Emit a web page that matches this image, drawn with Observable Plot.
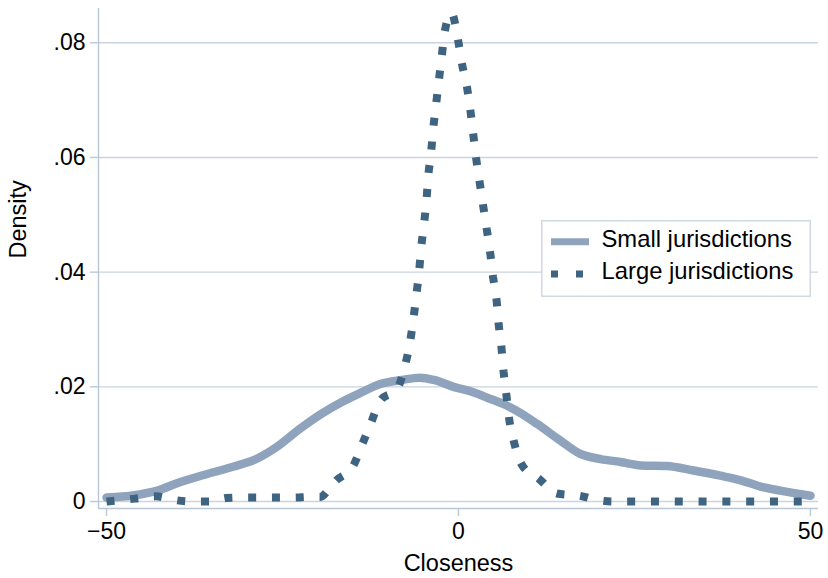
<!DOCTYPE html>
<html>
<head>
<meta charset="utf-8">
<script src="https://cdn.jsdelivr.net/npm/d3@7"></script>
<script src="https://cdn.jsdelivr.net/npm/@observablehq/plot@0.6"></script>
<style>
  html, body { margin: 0; padding: 0; background: white; }
  #wrap { position: relative; width: 828px; height: 578px; font-family: "Liberation Sans", Arial, Helvetica, sans-serif; }
  #legend { position: absolute; left: 541px; top: 220px; }
</style>
</head>
<body>
<div id="wrap"></div>
<script>
// ---- Data ----
const seriesNames = ["Small jurisdictions", "Large jurisdictions"];

const smallX = [-50, -46, -42.8, -39.5, -35.7, -31.9, -29.1, -26.2, -22.4, -19.6, -16.5, -14, -11.1, -8, -5.5, -3.5, -0.7, 2, 4.1, 6.9, 9, 11.2, 14.5, 17.3, 20.2, 23, 25.9, 29.6, 33.4, 37.2, 40.1, 42.9, 45.7, 50];
const smallY = [0.0007, 0.0011, 0.0019, 0.0034, 0.0048, 0.0061, 0.0072, 0.0092, 0.0128, 0.0152, 0.0174, 0.0189, 0.0205, 0.0212, 0.0216, 0.0212, 0.0200, 0.0191, 0.0181, 0.0167, 0.0153, 0.0135, 0.0106, 0.0083, 0.0074, 0.0069, 0.0063, 0.0062, 0.0054, 0.0045, 0.0037, 0.0026, 0.0019, 0.0010];

const largeX = [-50, -46, -43, -40.5, -38, -35, -33, -30, -26.7, -23.4, -21, -19.6, -18.5, -17.5, -15.0, -13.7, -12.4, -11.1, -8.7, -7.6, -6.9, -6.4, -6.0, -5.6, -5.3, -4.9, -4.55, -4.3, -3.9, -3.6, -3.2, -2.8, -2.4, -2.0, -1.0, -0.05, 0.5, 1.2, 1.7, 2.1, 2.5, 3.0, 3.5, 4.0, 4.5, 4.9, 5.4, 5.7, 6.1, 6.4, 6.8, 7.2, 7.9, 9.0, 11.4, 14.0, 17.2, 20, 22, 50];
const largeY = [0, 0.0005, 0.0009, 0.0003, 0, 0, 0.0006, 0.0007, 0.0007, 0.0007, 0.0008, 0.0008, 0.0020, 0.0035, 0.0061, 0.0099, 0.0138, 0.0176, 0.0197, 0.0237, 0.0277, 0.0319, 0.0359, 0.0401, 0.0443, 0.0484, 0.0525, 0.0567, 0.0608, 0.0649, 0.0691, 0.0733, 0.0774, 0.0816, 0.0852, 0.0804, 0.0763, 0.0723, 0.0681, 0.0640, 0.0599, 0.0557, 0.0516, 0.0476, 0.0434, 0.0392, 0.0352, 0.0310, 0.0269, 0.0227, 0.0186, 0.0144, 0.0103, 0.0064, 0.0040, 0.0014, 0.0010, 0.0002, 0, 0];

const xTicks = [-50, 0, 50];
const xTickLabels = ["\u221250", "0", "50"];
const yTicks = [0, 0.02, 0.04, 0.06, 0.08];
const yTickLabels = ["0", ".02", ".04", ".06", ".08"];
const xTitle = "Closeness";
const yTitle = "Density";

// ---- Styles ----
const smallColor = "#8fa4bc";
const largeColor = "#3e6482";
const gridColor = "#c9d4e0";
const axisColor = "#b9c7d6";
const font = "'Liberation Sans', Arial, Helvetica, sans-serif";
const fs = 23;
const legendFs = 23.8;

const xDomain = [-51.14, 51.14];
const yDomain = [-0.00122, 0.08598];

const smallData = smallX.map((x, i) => ({x, y: smallY[i]}));
const largeData = largeX.map((x, i) => ({x, y: largeY[i]}));

const chart = Plot.plot({
  width: 828,
  height: 578,
  marginLeft: 98,
  marginRight: 10,
  marginTop: 8,
  marginBottom: 70,
  x: {domain: xDomain},
  y: {domain: yDomain},
  style: {fontFamily: font, fontSize: fs + "px", background: "white", color: "black", overflow: "visible"},
  marks: [
    Plot.gridY(yTicks, {stroke: gridColor, strokeOpacity: 1, strokeWidth: 1.4}),
    Plot.ruleX([xDomain[0]], {stroke: axisColor, strokeWidth: 1.4}),
    Plot.ruleY([yDomain[0]], {stroke: axisColor, strokeWidth: 1.4}),
    Plot.axisY(yTicks, {
      tickFormat: d => yTickLabels[yTicks.indexOf(d)],
      tickSize: 8, tickPadding: 5, stroke: axisColor, strokeWidth: 1.4,
      fill: "black", fontSize: fs, label: null
    }),
    Plot.axisX(xTicks, {
      tickFormat: d => xTickLabels[xTicks.indexOf(d)],
      tickSize: 8, tickPadding: 6, stroke: axisColor, strokeWidth: 1.4,
      fill: "black", fontSize: fs, label: null
    }),
    Plot.line(smallData, {
      x: "x", y: "y", curve: "monotone-x",
      stroke: smallColor, strokeWidth: 8.5, strokeLinecap: "round", strokeLinejoin: "round"
    }),
    Plot.line(largeData, {
      x: "x", y: "y", curve: "monotone-x",
      stroke: largeColor, strokeWidth: 8, strokeLinecap: "butt", strokeLinejoin: "miter",
      strokeDasharray: "8,15.8"
    }),
    Plot.text([yTitle], {text: d => d, frameAnchor: "left", dx: -80.4, rotate: -90, fontSize: fs + 0.5, fill: "black"}),
    Plot.text([xTitle], {text: d => d, frameAnchor: "bottom", dy: 62, fontSize: fs + 0.5, fill: "black"})
  ]
});

const wrap = document.getElementById("wrap");
wrap.appendChild(chart);

// ---- Legend (inside the plot area, upper right) ----
const leg = d3.create("svg")
  .attr("id", "legend")
  .attr("width", 271)
  .attr("height", 78)
  .style("font-family", font);
leg.append("rect")
  .attr("x", 0.75).attr("y", 0.75).attr("width", 268.5).attr("height", 75.5)
  .attr("fill", "white").attr("stroke", "#cfd8e3").attr("stroke-width", 1.5);
const rows = [
  {name: seriesNames[0], color: smallColor, dash: null, ly: 21.7, ty: 26.5},
  {name: seriesNames[1], color: largeColor, dash: "7,18", ly: 54, ty: 58.5}
];
for (const r of rows) {
  const ln = leg.append("line")
    .attr("x1", 10).attr("x2", 48).attr("y1", r.ly).attr("y2", r.ly)
    .attr("stroke", r.color).attr("stroke-width", 7);
  if (r.dash) ln.attr("stroke-dasharray", r.dash);
  leg.append("text")
    .attr("x", 60.5).attr("y", r.ty)
    .attr("font-size", legendFs).attr("fill", "black")
    .text(r.name);
}
wrap.appendChild(leg.node());
</script>
</body>
</html>
